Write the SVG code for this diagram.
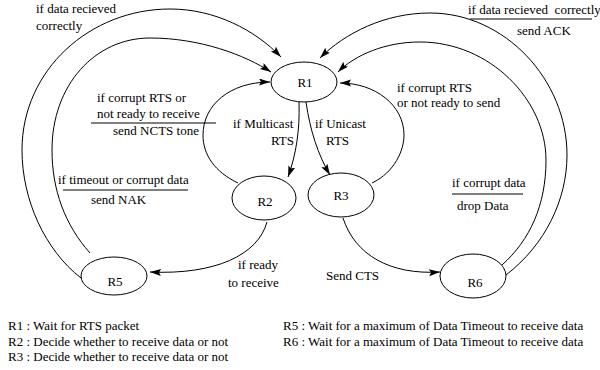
<svg xmlns="http://www.w3.org/2000/svg" width="600" height="370" viewBox="0 0 600 370">
<defs>
<marker id="ah" markerUnits="userSpaceOnUse" markerWidth="12" markerHeight="8" refX="11" refY="3.5" orient="auto">
<path d="M0,0 L11,3.5 L0,7 L2,3.5 z" fill="#000"/>
</marker>
</defs>
<style>
text{font-family:"Liberation Serif","Times New Roman",serif;font-size:13px;fill:#000}
.n ellipse{fill:#fff;stroke:#000;stroke-width:1}
.c path{fill:none;stroke:#000;stroke-width:1;marker-end:url(#ah)}
.u{stroke:#000;stroke-width:1}
</style>
<rect width="600" height="370" fill="#fff"/>
<g id="connectors" class="c">
<path d="M81,278 C45,250 22,200 22,150 C22,70 90,9 170,9 C215,9 255,30 281,57"/>
<path d="M90,253 C65,225 52,190 52,150 C52,85 95,38 150,38 C200,38 245,55 271,72"/>
<path d="M238,183 C215,172 203,155 203,135 C203,105 230,82 270,82"/>
<path d="M506,275 C545,245 567,200 567,155 C567,80 505,13 430,13 C385,13 345,33 320,58"/>
<path d="M502,265 C530,240 546,205 546,160 C546,100 490,42 420,42 C385,42 355,55 338,72"/>
<path d="M372,183 C395,172 404,150 404,135 C404,105 375,83 340,83"/>
<path d="M299,102 C300,130 296,155 288,177"/>
<path d="M306,102 C310,130 318,155 330,175"/>
<path d="M267,222 C258,255 215,275 150,272"/>
<path d="M343,218 C355,255 390,275 440,272"/>
</g>
<g id="R1" class="n"><ellipse cx="304" cy="82" rx="33" ry="20"/><text x="305" y="87" text-anchor="middle">R1</text></g>
<g id="R2" class="n"><ellipse cx="264" cy="198" rx="32" ry="22"/><text x="265" y="206" text-anchor="middle">R2</text></g>
<g id="R3" class="n"><ellipse cx="341" cy="195" rx="33" ry="22"/><text x="341" y="200" text-anchor="middle">R3</text></g>
<g id="R5" class="n"><ellipse cx="114" cy="276" rx="33" ry="19"/><text x="115" y="286" text-anchor="middle">R5</text></g>
<g id="R6" class="n"><ellipse cx="473" cy="276" rx="33" ry="22"/><text x="475" y="287" text-anchor="middle">R6</text></g>
<g id="labels">
<text x="36" y="13">if data recieved</text>
<text x="36" y="30">correctly</text>
<text x="468" y="14" xml:space="preserve">if data recieved  correctly</text>
<line class="u" x1="470" y1="19" x2="592" y2="19"/>
<text x="517" y="35">send ACK</text>
<text x="97" y="102">if corrupt RTS or</text>
<text x="97" y="118">not ready to receive</text>
<line class="u" x1="91" y1="123" x2="216" y2="123"/>
<text x="113" y="135">send NCTS tone</text>
<text x="233" y="128">if Multicast</text>
<text x="294" y="145" text-anchor="end">RTS</text>
<text x="315" y="128">if Unicast</text>
<text x="326" y="145">RTS</text>
<text x="397" y="92">if corrupt RTS</text>
<text x="397" y="107">or not ready to send</text>
<text x="58" y="184">if timeout or corrupt data</text>
<line class="u" x1="63" y1="190" x2="188" y2="190"/>
<text x="91" y="204">send NAK</text>
<text x="238" y="269">if ready</text>
<text x="228" y="287">to receive</text>
<text x="452" y="187">if corrupt data</text>
<line class="u" x1="452" y1="194" x2="523" y2="194"/>
<text x="457" y="210">drop Data</text>
<text x="326" y="280">Send CTS</text>
</g>
<g id="legend">
<text x="8" y="330">R1 : Wait for RTS packet</text>
<text x="8" y="345.5">R2 : Decide whether to receive data or not</text>
<text x="8" y="361">R3 : Decide whether to receive data or not</text>
<text x="283" y="330">R5 : Wait for a maximum of Data Timeout to receive data</text>
<text x="283" y="345.5">R6 : Wait for a maximum of Data Timeout to receive data</text>
</g>
</svg>
